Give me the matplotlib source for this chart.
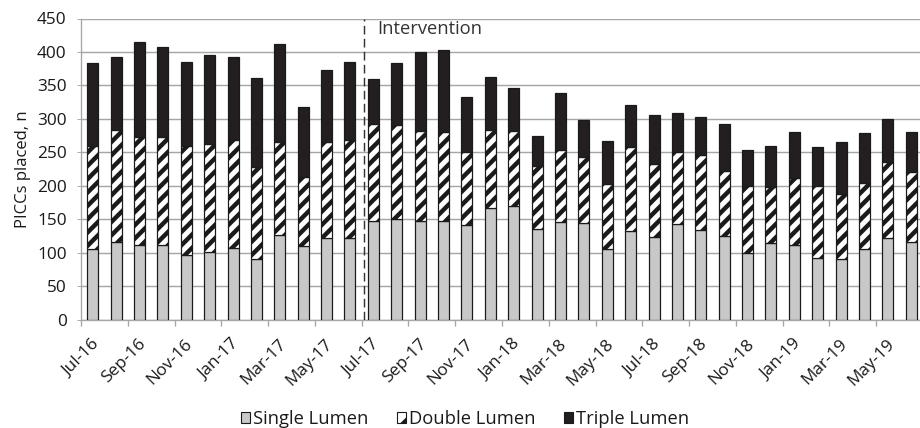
import matplotlib
matplotlib.use("Agg")
import matplotlib.pyplot as plt
from matplotlib.patches import Patch
from matplotlib.transforms import ScaledTranslation

# monthly PICC counts, Jul-16 .. Jun-19
months = ["Jul-16", "Aug-16", "Sep-16", "Oct-16", "Nov-16", "Dec-16",
          "Jan-17", "Feb-17", "Mar-17", "Apr-17", "May-17", "Jun-17",
          "Jul-17", "Aug-17", "Sep-17", "Oct-17", "Nov-17", "Dec-17",
          "Jan-18", "Feb-18", "Mar-18", "Apr-18", "May-18", "Jun-18",
          "Jul-18", "Aug-18", "Sep-18", "Oct-18", "Nov-18", "Dec-18",
          "Jan-19", "Feb-19", "Mar-19", "Apr-19", "May-19", "Jun-19"]
single = [106, 116, 112, 112, 96, 101, 107, 90, 127, 110, 122, 122,
          147, 150, 147, 148, 141, 167, 170, 136, 146, 144, 105, 133,
          124, 143, 134, 125, 99, 114, 112, 92, 90, 106, 122, 116]
double = [153, 167, 161, 161, 163, 161, 161, 138, 138, 103, 143, 146,
          146, 141, 135, 133, 110, 116, 112, 94, 107, 99, 97, 125,
          109, 107, 112, 97, 101, 84, 100, 107, 98, 98, 113, 105]
triple = [125, 110, 142, 135, 126, 133, 125, 133, 147, 105, 108, 117,
          67, 92, 118, 122, 81, 80, 64, 45, 85, 55, 65, 62,
          73, 58, 56, 70, 54, 61, 68, 59, 78, 75, 65, 59]
intervention_at = 11.6

plt.rcParams['font.family'] = ['Open Sans', 'DejaVu Sans']
plt.rcParams['hatch.linewidth'] = 4.0

DPI = 80
FS = 15.5
fig = plt.figure(figsize=(920 / DPI, 428 / DPI), dpi=DPI)
ax = fig.add_axes([81 / 920, 1 - 319.5 / 428, 842 / 920, 301 / 428])

x = list(range(len(months)))
w = 0.47
bottom2 = [a for a in single]
bottom3 = [a + b for a, b in zip(single, double)]
ax.bar(x, single, w, color="#c8c8c8", edgecolor="#1a1a1a", linewidth=1.1, zorder=3)
ax.bar(x, double, w, bottom=bottom2, color="white", edgecolor="#1a1a1a",
       hatch="//", linewidth=1.1, zorder=3)
ax.bar(x, triple, w, bottom=bottom3, color="#231f20", edgecolor="#1a1a1a",
       linewidth=1.1, zorder=3)

ax.set_xlim(-0.5, 35.5)
ax.set_ylim(0, 450)
ax.set_yticks(range(0, 451, 50))
ax.yaxis.grid(True, color="#a6a6a6", linewidth=1.3, zorder=0)
ax.set_axisbelow(True)
for s in ["top", "right"]:
    ax.spines[s].set_visible(False)
for s in ["left", "bottom"]:
    ax.spines[s].set_color("#a6a6a6")
    ax.spines[s].set_linewidth(1.2)

ax.tick_params(axis="y", length=4, color="#a6a6a6", pad=9, labelsize=FS,
               labelcolor="#1a1a1a")
ax.set_xticks(x[::2])
ax.set_xticklabels(months[::2], rotation=45, ha="right", va="center",
                   rotation_mode="anchor", fontsize=FS, color="#1a1a1a")
ax.set_xticks([i - 0.5 for i in x[::2]], minor=True)
ax.tick_params(axis="x", which="major", length=0, pad=20)
ax.tick_params(axis="x", which="minor", length=5, color="#a6a6a6", width=1.2)
off = ScaledTranslation(4 / DPI, 0, fig.dpi_scale_trans)
for lab in ax.get_xticklabels():
    lab.set_transform(lab.get_transform() + off)

ax.set_ylabel("PICCs placed, n", fontsize=15, color="#1a1a1a", labelpad=5)

ax.vlines(intervention_at, 0, 450, colors="#333333", linestyles=(0, (6, 3)),
          linewidth=1.3, zorder=4)
ax.text(intervention_at + 0.55, 435, "Intervention", fontsize=16.5,
        color="#333333", va="center", ha="left")

handles = [Patch(facecolor="#c8c8c8", edgecolor="#1a1a1a", label="Single Lumen"),
           Patch(facecolor="white", edgecolor="#1a1a1a", hatch="/", label="Double Lumen"),
           Patch(facecolor="#231f20", edgecolor="#1a1a1a", label="Triple Lumen")]
fig.legend(handles=handles, loc="center", bbox_to_anchor=(465 / 920, 1 - 419 / 428),
           ncol=3, frameon=False, fontsize=16.5, handlelength=0.5,
           handleheight=0.5, handletextpad=0.15, columnspacing=1.55,
           labelcolor="#1a1a1a")

fig.savefig("out.png", dpi=DPI)
